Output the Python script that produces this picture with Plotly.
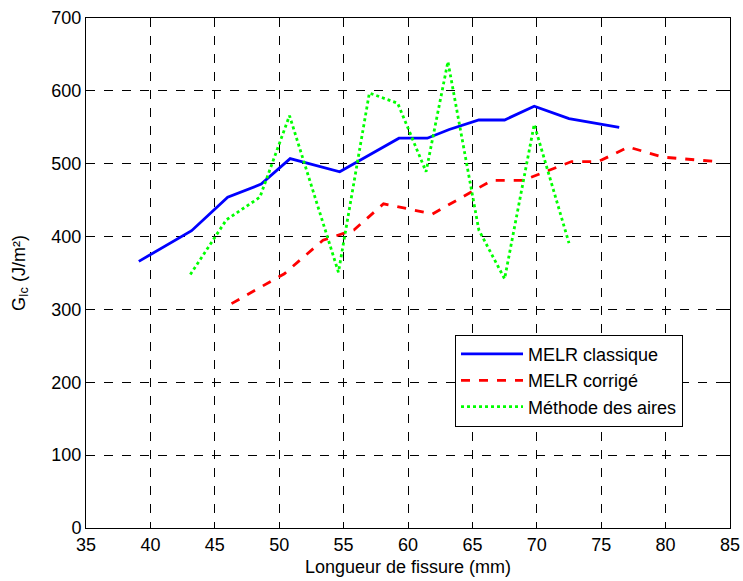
import plotly.graph_objects as go

# Crack length (mm) and G_Ic (J/m²) for each method
x_classique = [39.1, 43.2, 46.0, 48.6, 50.85, 54.7, 59.3, 61.5, 63.2, 65.5, 67.5, 69.8, 72.5, 76.4]
y_classique = [366, 408, 454, 472, 507, 489, 535, 535, 547, 560, 560, 579, 562, 550]

x_corrige = [46.3, 50.4, 53.4, 55.8, 58.1, 61.9, 66.5, 68.9, 72.7, 74.8, 77.1, 79.8, 83.9]
y_corrige = [308, 349, 395, 409, 445, 431, 477, 477, 503, 503, 523, 509, 503]

x_aires = [43.1, 45.9, 48.5, 50.8, 54.6, 57.0, 59.2, 61.4, 63.1, 65.5, 67.5, 69.8, 72.5]
y_aires = [348, 423, 454, 566, 351, 597, 583, 489, 640, 409, 342, 554, 391]

names = ["MELR classique", "MELR corrigé", "Méthode des aires"]
x_ticks = [35, 40, 45, 50, 55, 60, 65, 70, 75, 80, 85]
y_ticks = [0, 100, 200, 300, 400, 500, 600, 700]

FONT = "Liberation Sans, Arial, sans-serif"
FS = 18

fig = go.Figure()
fig.add_trace(go.Scatter(x=x_classique, y=y_classique, mode="lines", name=names[0],
                         legendgroup="a",
                         line=dict(color="#0000ff", width=2.8, dash="solid")))
fig.add_trace(go.Scatter(x=x_corrige, y=y_corrige, mode="lines", name=names[1],
                         legendgroup="b",
                         line=dict(color="#ff0000", width=2.8, dash="dash")))
fig.add_trace(go.Scatter(x=x_aires, y=y_aires, mode="lines", name=names[2],
                         legendgroup="c",
                         line=dict(color="#00ff00", width=2.8, dash="dot")))

axis_common = dict(
    showline=True, mirror="ticks", linecolor="black", linewidth=1,
    ticks="inside", ticklen=5, tickcolor="black",
    showgrid=True, gridcolor="black", gridwidth=1, griddash="dash",
    zeroline=False, automargin=False,
    tickfont=dict(family=FONT, size=FS, color="black"),
)

fig.update_xaxes(range=[35, 85], tickvals=x_ticks,
                 title=dict(text="Longueur de fissure (mm)", standoff=6,
                            font=dict(family=FONT, size=FS, color="black")),
                 **axis_common)
fig.update_yaxes(range=[0, 700], tickvals=y_ticks,
                 title=dict(text="G<sub>Ic</sub> (J/m²)", standoff=21,
                            font=dict(family=FONT, size=FS, color="black")),
                 **axis_common)

fig.update_layout(
    width=743, height=581,
    margin=dict(l=86, r=13, t=18, b=53, autoexpand=False),
    paper_bgcolor="white", plot_bgcolor="white",
    font=dict(family=FONT, size=FS, color="black"),
    legend=dict(x=0.573, y=0.379, xanchor="left", yanchor="top",
                bgcolor="white", bordercolor="black", borderwidth=1,
                font=dict(family=FONT, size=FS, color="black"),
                tracegroupgap=0, itemwidth=62),
    showlegend=True,
)

fig.write_html("out.html", config={"displayModeBar": False},
               post_script="document.body.style.margin='0';")
